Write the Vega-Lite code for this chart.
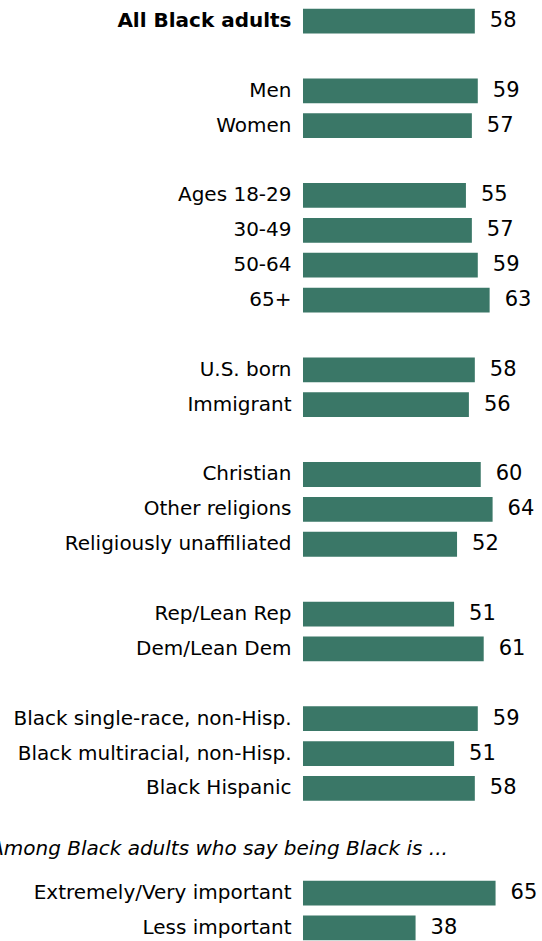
{
  "$schema": "https://vega.github.io/schema/vega-lite/v6.json",
  "autosize": "none",
  "width": 237,
  "height": 941.8,
  "padding": {"left": 303, "top": 3.6, "right": 2, "bottom": 0},
  "background": "white",
  "config": {"view": {"stroke": null}, "font": "DejaVu Sans"},
  "datasets": {
    "bars": [
      {"group": "All Black adults", "value": 58},
      {"group": "Men", "value": 59},
      {"group": "Women", "value": 57},
      {"group": "Ages 18-29", "value": 55},
      {"group": "30-49", "value": 57},
      {"group": "50-64", "value": 59},
      {"group": "65+", "value": 63},
      {"group": "U.S. born", "value": 58},
      {"group": "Immigrant", "value": 56},
      {"group": "Christian", "value": 60},
      {"group": "Other religions", "value": 64},
      {"group": "Religiously unaffiliated", "value": 52},
      {"group": "Rep/Lean Rep", "value": 51},
      {"group": "Dem/Lean Dem", "value": 61},
      {"group": "Black single-race, non-Hisp.", "value": 59},
      {"group": "Black multiracial, non-Hisp.", "value": 51},
      {"group": "Black Hispanic", "value": 58},
      {"group": "Extremely/Very important", "value": 65},
      {"group": "Less important", "value": 38}
    ],
    "header": [
      {"group": "_g8", "text": "Among Black adults who say being Black is ..."}
    ]
  },
  "layer": [
    {
      "data": {"name": "bars"},
      "mark": {"type": "bar", "color": "#3a7767"},
      "encoding": {
        "y": {
          "field": "group",
          "type": "nominal",
          "sort": null,
          "scale": {
            "domain": ["All Black adults", "_g1", "Men", "Women", "_g2", "Ages 18-29", "30-49", "50-64", "65+", "_g3", "U.S. born", "Immigrant", "_g4", "Christian", "Other religions", "Religiously unaffiliated", "_g5", "Rep/Lean Rep", "Dem/Lean Dem", "_g6", "Black single-race, non-Hisp.", "Black multiracial, non-Hisp.", "Black Hispanic", "_g7", "_g8", "Extremely/Very important", "Less important"],
            "paddingInner": 0.29,
            "paddingOuter": 0.145
          },
          "axis": {
            "title": null,
            "domain": false,
            "ticks": false,
            "labelPadding": 12,
            "labelLimit": 400,
            "labelFontSize": 20,
            "labelColor": "#000000",
            "labelFontWeight": {"condition": {"test": "datum.value === 'All Black adults'", "value": "bold"}, "value": "normal"},
            "labelExpr": "indexof(datum.value, '_g') === 0 ? '' : datum.value"
          }
        },
        "x": {
          "field": "value",
          "type": "quantitative",
          "scale": {"domain": [0, 80]},
          "axis": null
        }
      }
    },
    {
      "data": {"name": "bars"},
      "mark": {"type": "text", "align": "left", "baseline": "middle", "dx": 15, "fontSize": 21, "color": "#000000"},
      "encoding": {
        "y": {"field": "group", "type": "nominal", "sort": null},
        "x": {"field": "value", "type": "quantitative"},
        "text": {"field": "value", "type": "quantitative"}
      }
    },
    {
      "data": {"name": "header"},
      "mark": {"type": "text", "align": "right", "baseline": "middle", "dy": -9, "fontSize": 20, "fontStyle": "italic", "color": "#000000"},
      "encoding": {
        "y": {"field": "group", "type": "nominal", "sort": null},
        "x": {"datum": 48.9, "type": "quantitative"},
        "text": {"field": "text"}
      }
    }
  ]
}
